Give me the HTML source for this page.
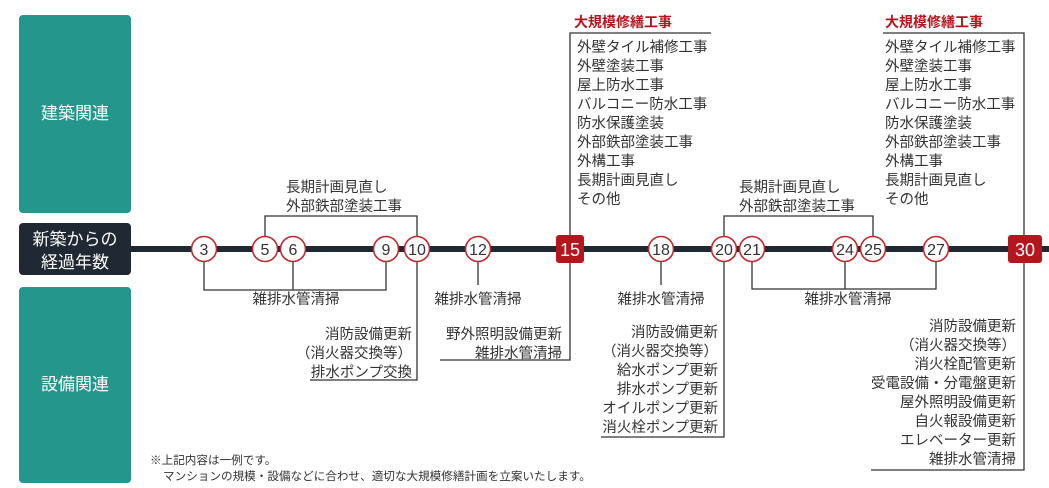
<!DOCTYPE html>
<html><head><meta charset="utf-8"><style>
html,body{margin:0;padding:0;background:#fff;width:1049px;height:488px;overflow:hidden}
svg{display:block}
text{font-family:"Liberation Sans","Noto Sans CJK JP",sans-serif;fill:#333;font-size:14.5px}
.w{fill:#fff;font-size:17px}
.n{font-size:16px;fill:#333;text-anchor:middle}
.nw{font-size:18px;fill:#fff;text-anchor:middle}
.r{text-anchor:end}
.m{text-anchor:middle}
.red{fill:#b5161e;font-weight:bold;font-size:14px}
.ft{font-size:11.6px}
</style></head><body>
<svg width="1049" height="488" viewBox="0 0 1049 488">
<rect x="19" y="15" width="112" height="198" rx="4" fill="#24968b"/>
<rect x="19" y="287" width="112" height="196" rx="4" fill="#24968b"/>
<rect x="19" y="223" width="112" height="52" rx="4" fill="#1f2833"/>
<text class="w m" x="75" y="119">建築関連</text>
<text class="w m" x="75" y="390">設備関連</text>
<text class="w m" x="75" y="245">新築からの</text>
<text class="w m" x="75" y="268">経過年数</text>
<rect x="131" y="246" width="918" height="6" fill="#1f2833"/>
<g stroke="#333" stroke-width="1.3" fill="none">
<polyline points="265,249 265,216 417,216 417,249"/>
<polyline points="204,249 204,290 386,290 386,249"/>
<line x1="293" y1="249" x2="293" y2="290"/>
<polyline points="417,249 417,380 310,380"/>
<line x1="478" y1="249" x2="478" y2="285"/>
<polyline points="711,33 570,33 570,360 440,360"/>
<line x1="661" y1="249" x2="661" y2="285"/>
<polyline points="724,249 724,437 601,437"/>
<polyline points="724,249 724,216 873,216 873,249"/>
<polyline points="752,249 752,289 936,289 936,249"/>
<line x1="845" y1="249" x2="845" y2="289"/>
<polyline points="883,33 1024,33 1024,470 871,470"/>
</g>
<g fill="#fff" stroke="#c0272d" stroke-width="1.6">
<circle cx="204" cy="249" r="12.5"/><circle cx="265" cy="249" r="12.5"/><circle cx="293" cy="249" r="12.5"/>
<circle cx="386" cy="249" r="12.5"/><circle cx="417" cy="249" r="12.5"/><circle cx="478" cy="249" r="12.5"/>
<circle cx="661" cy="249" r="12.5"/><circle cx="724" cy="249" r="12.5"/><circle cx="752" cy="249" r="12.5"/>
<circle cx="845" cy="249" r="12.5"/><circle cx="873" cy="249" r="12.5"/><circle cx="936" cy="249" r="12.5"/>
</g>
<rect x="556" y="235" width="28" height="28" rx="3" fill="#b5161e"/>
<rect x="1008" y="235" width="34" height="28" rx="3" fill="#b5161e"/>
<text class="n" x="204" y="255">3</text><text class="n" x="265" y="255">5</text><text class="n" x="293" y="255">6</text>
<text class="n" x="386" y="255">9</text><text class="n" x="417" y="255">10</text><text class="n" x="478" y="255">12</text>
<text class="n" x="661" y="255">18</text><text class="n" x="724" y="255">20</text><text class="n" x="752" y="255">21</text>
<text class="n" x="845" y="255">24</text><text class="n" x="873" y="255">25</text><text class="n" x="936" y="255">27</text>
<text class="nw" x="570" y="256">15</text><text class="nw" x="1025" y="256">30</text>

<text x="286" y="192">長期計画見直し</text>
<text x="286" y="211">外部鉄部塗装工事</text>
<text class="m" x="296" y="304">雑排水管清掃</text>
<text class="r" x="412" y="339">消防設備更新</text>
<text class="r" x="412" y="358">（消火器交換等）</text>
<text class="r" x="412" y="377">排水ポンプ交換</text>
<text class="m" x="478" y="304">雑排水管清掃</text>
<text class="r" x="562" y="339">野外照明設備更新</text>
<text class="r" x="562" y="358">雑排水管清掃</text>

<text class="red" x="574" y="27">大規模修繕工事</text>
<g>
<text x="577" y="52">外壁タイル補修工事</text><text x="577" y="71">外壁塗装工事</text><text x="577" y="90">屋上防水工事</text>
<text x="577" y="109">バルコニー防水工事</text><text x="577" y="128">防水保護塗装</text><text x="577" y="147">外部鉄部塗装工事</text>
<text x="577" y="166">外構工事</text><text x="577" y="185">長期計画見直し</text><text x="577" y="204">その他</text>
</g>
<text class="m" x="661" y="304">雑排水管清掃</text>
<text class="r" x="718" y="337">消防設備更新</text>
<text class="r" x="718" y="356">（消火器交換等）</text>
<text class="r" x="718" y="375">給水ポンプ更新</text>
<text class="r" x="718" y="394">排水ポンプ更新</text>
<text class="r" x="718" y="413">オイルポンプ更新</text>
<text class="r" x="718" y="432">消火栓ポンプ更新</text>
<text x="739" y="192">長期計画見直し</text>
<text x="739" y="211">外部鉄部塗装工事</text>
<text class="m" x="848" y="304">雑排水管清掃</text>

<text class="red" x="885" y="27">大規模修繕工事</text>
<g>
<text x="885" y="52">外壁タイル補修工事</text><text x="885" y="71">外壁塗装工事</text><text x="885" y="90">屋上防水工事</text>
<text x="885" y="109">バルコニー防水工事</text><text x="885" y="128">防水保護塗装</text><text x="885" y="147">外部鉄部塗装工事</text>
<text x="885" y="166">外構工事</text><text x="885" y="185">長期計画見直し</text><text x="885" y="204">その他</text>
</g>
<text class="r" x="1016" y="331">消防設備更新</text>
<text class="r" x="1016" y="350">（消火器交換等）</text>
<text class="r" x="1016" y="369">消火栓配管更新</text>
<text class="r" x="1016" y="388">受電設備・分電盤更新</text>
<text class="r" x="1016" y="407">屋外照明設備更新</text>
<text class="r" x="1016" y="426">自火報設備更新</text>
<text class="r" x="1016" y="445">エレベーター更新</text>
<text class="r" x="1016" y="464">雑排水管清掃</text>

<text class="ft" x="150" y="464">※上記内容は一例です。</text>
<text class="ft" x="163" y="480">マンションの規模・設備などに合わせ、適切な大規模修繕計画を立案いたします。</text>
</svg>
</body></html>
